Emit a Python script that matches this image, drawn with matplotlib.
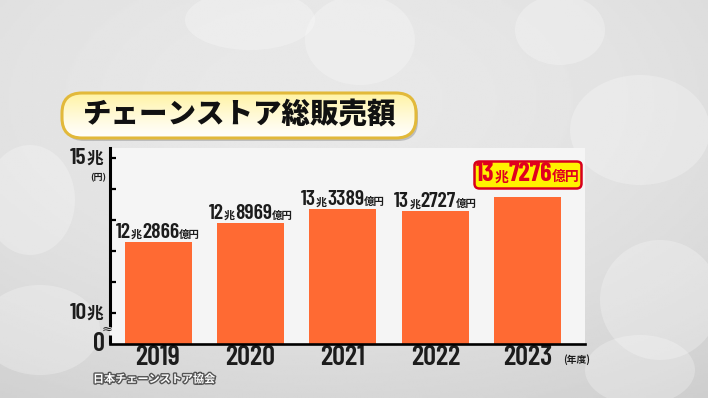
"""Chain store total sales, 2019-2023 (TV-style bar chart)."""

import matplotlib

matplotlib.use("Agg")
import matplotlib.pyplot as plt  # noqa: E402
import matplotlib.patheffects as pe  # noqa: E402
import numpy as np  # noqa: E402
from matplotlib.offsetbox import AnnotationBbox, HPacker, TextArea  # noqa: E402
from matplotlib.patches import Ellipse, FancyBboxPatch  # noqa: E402

# data (trillion yen = 兆円)
years = ["2019", "2020", "2021", "2022", "2023"]
sales = [12.2866, 12.8969, 13.3389, 13.2727, 13.7276]
label_cho = ["12", "12", "13", "13", "13"]
label_oku = ["2866", "8969", "3389", "2727", "7276"]
y_ticks = [10, 11, 12, 13, 14, 15]

title = "チェーンストア総販売額"
source = "日本チェーンストア協会"

NUM = ["Barlow Condensed", "Noto Sans CJK JP"]
JP = ["Noto Sans CJK JP", "DejaVu Sans"]
BAR = "#ff6a33"
INK = "#1c1c1c"

fig = plt.figure(figsize=(7.08, 3.98), dpi=100)

# grey studio-like background
bg = fig.add_axes([0, 0, 1, 1], zorder=-10)
yy, xx = np.mgrid[0:1:200j, 0:1:360j]
grad = 0.91 - 0.12 * ((xx - 0.45) ** 2 + (yy - 0.25) ** 2)
bg.imshow(grad, cmap="gray", vmin=0, vmax=1, extent=[0, 708, 398, 0], aspect="auto")
for cx, cy, w, h in [(360, 40, 110, 90), (640, 130, 140, 110), (40, 330, 120, 90),
                     (660, 300, 120, 120), (250, 20, 130, 60), (560, 30, 90, 70),
                     (30, 200, 90, 110), (640, 370, 110, 70)]:
    bg.add_patch(Ellipse((cx, cy), w, h, fc="white", ec="none", alpha=0.25))
bg.set_xlim(0, 708)
bg.set_ylim(398, 0)
bg.axis("off")

# title plate
tax = fig.add_axes([60 / 708, 1 - 141 / 398, 360 / 708, 50 / 398])
tax.set_xlim(0, 360)
tax.set_ylim(0, 50)
tax.axis("off")
shadow = FancyBboxPatch((4, 0), 354, 46, boxstyle="round,pad=0,rounding_size=20",
                        fc="#8a8a8a", ec="none", alpha=0.45, zorder=1)
tax.add_patch(shadow)
plate = FancyBboxPatch((2, 3), 354, 45, boxstyle="round,pad=0,rounding_size=20",
                       fc="none", ec="#e2b93a", lw=2.2, zorder=3)
tax.add_patch(plate)
g = np.linspace(0, 1, 64)
cream = np.ones((64, 1, 3))
cream[:, 0, 1] = 1 - 0.05 * g ** 1.3
cream[:, 0, 2] = 1 - 0.38 * g ** 1.3
im = tax.imshow(cream, extent=[0, 360, 50, 0], aspect="auto", zorder=2)
im.set_clip_path(plate)
tax.text(180, 26, title, ha="center", va="center", fontsize=20.5,
         fontweight="black", family=JP, color="#111111", zorder=4)

# chart
ax = fig.add_axes([110 / 708, 1 - 344 / 398, 475 / 708, 196 / 398])
ax.set_facecolor("#f5f5f5")
x = np.arange(len(years))
ax.bar(x, [v - 9.0 for v in sales], bottom=9.0, width=0.725, color=BAR, zorder=2)
ax.set_xlim(-0.52, 4.62)
ax.set_ylim(9.0, 15.32)

for side in ["top", "right"]:
    ax.spines[side].set_visible(False)
ax.spines["left"].set_linewidth(2.2)
ax.spines["bottom"].set_linewidth(1.9)
ax.spines["left"].set_bounds(9.61, 15.32)
ax.plot([0, 0], [9.0, 9.29], transform=ax.get_yaxis_transform(), color="black",
        lw=2.2, clip_on=False, solid_capstyle="butt")
ax.text(-0.007, 9.46, "≈", transform=ax.get_yaxis_transform(), ha="center",
        va="center", fontsize=9.5, color=INK, family=["DejaVu Sans"])

ax.set_yticks(y_ticks)
ax.set_yticklabels([])
ax.tick_params(axis="y", direction="in", length=4, width=1.6, color="black")
ax.set_xticks(x)
ax.set_xticklabels(years, fontsize=20.5, fontweight="semibold", family=NUM, color=INK)
ax.tick_params(axis="x", length=0, pad=1)


def packed(parts, color=INK, weight="semibold"):
    boxes = [TextArea(s, textprops=dict(fontsize=fs, fontweight=weight if num else "bold",
                                        family=NUM if num else JP, color=color))
             for s, fs, num in parts]
    return HPacker(children=boxes, align="baseline", pad=0, sep=0)


# value labels
for i, (c, o, v) in enumerate(zip(label_cho, label_oku, sales)):
    if i == len(sales) - 1:
        box = packed([(c, 18.5, True), ("兆", 10, False), (o, 18.5, True), ("億円", 10, False)],
                     color="#e1001e", weight="bold")
        ab = AnnotationBbox(box, (i, v), xybox=(0, 8), boxcoords="offset points",
                            box_alignment=(0.5, 0), frameon=True, pad=0.1,
                            bboxprops=dict(boxstyle="round,pad=0.12,rounding_size=0.35",
                                           fc="#fff200", ec="#d8001c", lw=1.8))
    else:
        box = packed([(c, 15.5, True), ("兆", 8, False), (o, 15.5, True), ("億円", 7.5, False)])
        ab = AnnotationBbox(box, (i, v), xybox=(0, 0), boxcoords="offset points",
                            box_alignment=(0.5, 0), frameon=False, pad=0)
    ax.add_artist(ab)

# y labels
ytr = ax.get_yaxis_transform()
for val in (15, 10):
    lab = packed([(str(val), 17, True), ("兆", 12, False)])
    ax.add_artist(AnnotationBbox(lab, (0, val), xycoords=ytr, xybox=(-5, 0),
                                 boxcoords="offset points", box_alignment=(1, 0.5),
                                 frameon=False, pad=0, annotation_clip=False))
ax.annotate("(円)", xy=(0, 14.36), xycoords=ytr, xytext=(-3, 0), textcoords="offset points",
            ha="right", va="center", fontsize=6.5, fontweight="bold", family=JP, color=INK,
            annotation_clip=False)
ax.annotate("0", xy=(0, 9.0), xycoords=ytr, xytext=(-4, 0), textcoords="offset points",
            ha="right", va="center", fontsize=19, fontweight="semibold", family=NUM, color=INK,
            annotation_clip=False)

fig.text(563 / 708, 1 - 360 / 398, "(年度)", ha="left", va="center", fontsize=7,
         fontweight="bold", family=JP, color=INK)

fig.text(93 / 708, 1 - 379 / 398, source, ha="left", va="center", fontsize=8,
         fontweight="bold", family=JP, color="white",
         path_effects=[pe.withStroke(linewidth=2, foreground="#555555")])

fig.savefig("out.png", dpi=100)
plt.close(fig)
